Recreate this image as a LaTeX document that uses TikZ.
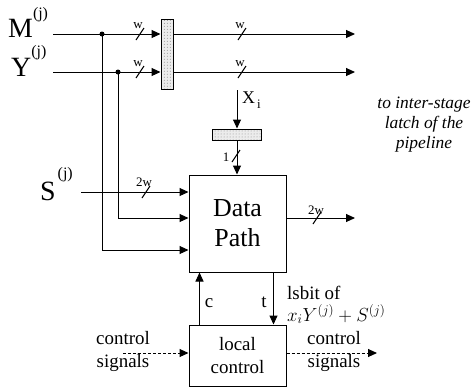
\documentclass[tikz,border=0pt]{standalone}
\usepackage{fix-cm}
\usepackage{fontspec}
\setmainfont{Liberation Serif}
\usetikzlibrary{arrows.meta,patterns,calc}

\tikzset{
  wire/.style={line width=1bp},
  sig/.style={wire, -{Triangle[length=9bp,width=8bp]}},
  ctl/.style={sig, dash pattern=on 3bp off 2bp},
  latchbox/.style={draw, line width=1bp, preaction={fill=gray!15}, pattern=dots, pattern color=gray!90, inner sep=0},
  blockbox/.style={draw, line width=1bp, align=center, inner sep=0},
  lbl/.style={font=\fontsize{19}{23}\selectfont, inner sep=0},
  wlbl/.style={font=\fontsize{13}{13}\selectfont, inner sep=0},
}

\begin{document}
\begin{tikzpicture}[x=1bp, y=-1bp]
    \useasboundingbox (0,0) rectangle (476,388);

    % Latches and blocks
    \node[latchbox, minimum width=12bp, minimum height=70bp] (latchA) at (167,54) {};
    \node[latchbox, minimum width=49bp, minimum height=11bp] (latchB) at (237,134.5) {};
    \node[blockbox, minimum width=97bp, minimum height=97bp, font=\fontsize{26}{30}\selectfont] (dp) at (237.5,223.5) {Data\\Path};
    \node[blockbox, minimum width=97bp, minimum height=61bp, font=\fontsize{19}{23}\selectfont] (lc) at (237.5,355.5) {local\\control};

    % Inputs
    \node[anchor=base west, inner sep=0, font=\fontsize{28}{28}\selectfont] (mlbl) at (8,37) {M\raisebox{19bp}{\fontsize{16}{16}\selectfont (j)}};
    \node[anchor=base west, inner sep=0, font=\fontsize{28}{28}\selectfont] (ylbl) at (11,76) {Y\raisebox{20bp}{\fontsize{16}{16}\selectfont (j)}};
    \node[anchor=base west, inner sep=0, font=\fontsize{28}{28}\selectfont] (slbl) at (40,200) {S\kern2bp\raisebox{22bp}{\fontsize{16}{16}\selectfont (j)}};
    \node[anchor=base west, inner sep=0, font=\fontsize{18}{18}\selectfont] (xlbl) at (242,103) {X\kern2bp\raisebox{-5bp}{\fontsize{13}{13}\selectfont i}};

    \coordinate (min) at (53,34);
    \coordinate (yin) at (53,72);
    \coordinate (sin) at (81,192);
    \coordinate (xin) at (237,90);
    \coordinate (mout) at (355,34);
    \coordinate (yout) at (355,72);
    \coordinate (dpout) at (355,218);
    \coordinate (mtap) at (102,34);
    \coordinate (ytap) at (118,72);

    % M and Y through the latch
    \draw[sig] (min) -- (min -| latchA.west);
    \draw[sig] (yin) -- (yin -| latchA.west);
    \draw[sig] (latchA.east |- mout) -- (mout);
    \draw[sig] (latchA.east |- yout) -- (yout);
    \fill (mtap) circle (2.5bp);
    \fill (ytap) circle (2.5bp);
    \draw[sig] (mtap) |- ($(dp.west)+(0,26.5)$);
    \draw[sig] (ytap) |- ($(dp.west)+(0,-5.5)$);
    \draw[sig] (sin) -- (sin -| dp.west);

    % x_i bit
    \draw[sig] (xin) -- (latchB.north);
    \draw[sig] (latchB.south) -- (latchB.south |- dp.north);

    % Output
    \draw[sig] ($(dp.east)+(0,-5.5)$) -- (dpout);

    % Bus widths
    \draw[wire] (136,40) -- ++(8,-12);
    \node[wlbl] (wm1) at (138,26) {w};
    \draw[wire] (136,78) -- ++(8,-12);
    \node[wlbl] (wy1) at (138,64) {w};
    \draw[wire] (238,40) -- ++(8,-12);
    \node[wlbl] (wm2) at (240,26) {w};
    \draw[wire] (238,78) -- ++(8,-12);
    \node[wlbl] (wy2) at (240,64) {w};
    \draw[wire] (142,198) -- ++(8,-12);
    \node[wlbl] (ws) at (144,182) {2w};
    \draw[wire] (313,224) -- ++(8,-12);
    \node[wlbl] (wdp) at (316,210) {2w};
    \draw[wire] (232,162) -- ++(8,-12);
    \node[wlbl] (wx) at (226,157) {1};

    % Data path <-> local control
    \draw[sig] ($(lc.north west)+(11,0)$) -- ($(dp.south west)+(11,0)$);
    \draw[sig] ($(dp.south east)+(-13,0)$) -- ($(lc.north east)+(-13,0)$);
    \node[lbl] (clbl) at (209,303) {c};
    \node[lbl] (tlbl) at (264,302) {t};
    \node[lbl, anchor=base west] (lsb) at (287,299) {lsbit of};
    \node[lbl, anchor=base west] (lsbf) at (287,321) {$x_iY^{(j)}+S^{(j)}$};

    % Control signals
    \coordinate (cin) at (123,353);
    \coordinate (cout) at (377,353);
    \draw[ctl] (cin) -- (cin -| lc.west);
    \draw[ctl] (lc.east |- cout) -- (cout);
    \node[lbl, align=center] (ctlin) at (123,351.5) {control\\signals};
    \node[lbl, align=center] (ctlout) at (334,351.5) {control\\signals};

    % Note
    \node[align=center, inner sep=0, font=\itshape\fontsize{17.5}{20}\selectfont] (note) at (424,125) {to inter-stage\\latch of the\\pipeline};
\end{tikzpicture}
\end{document}
